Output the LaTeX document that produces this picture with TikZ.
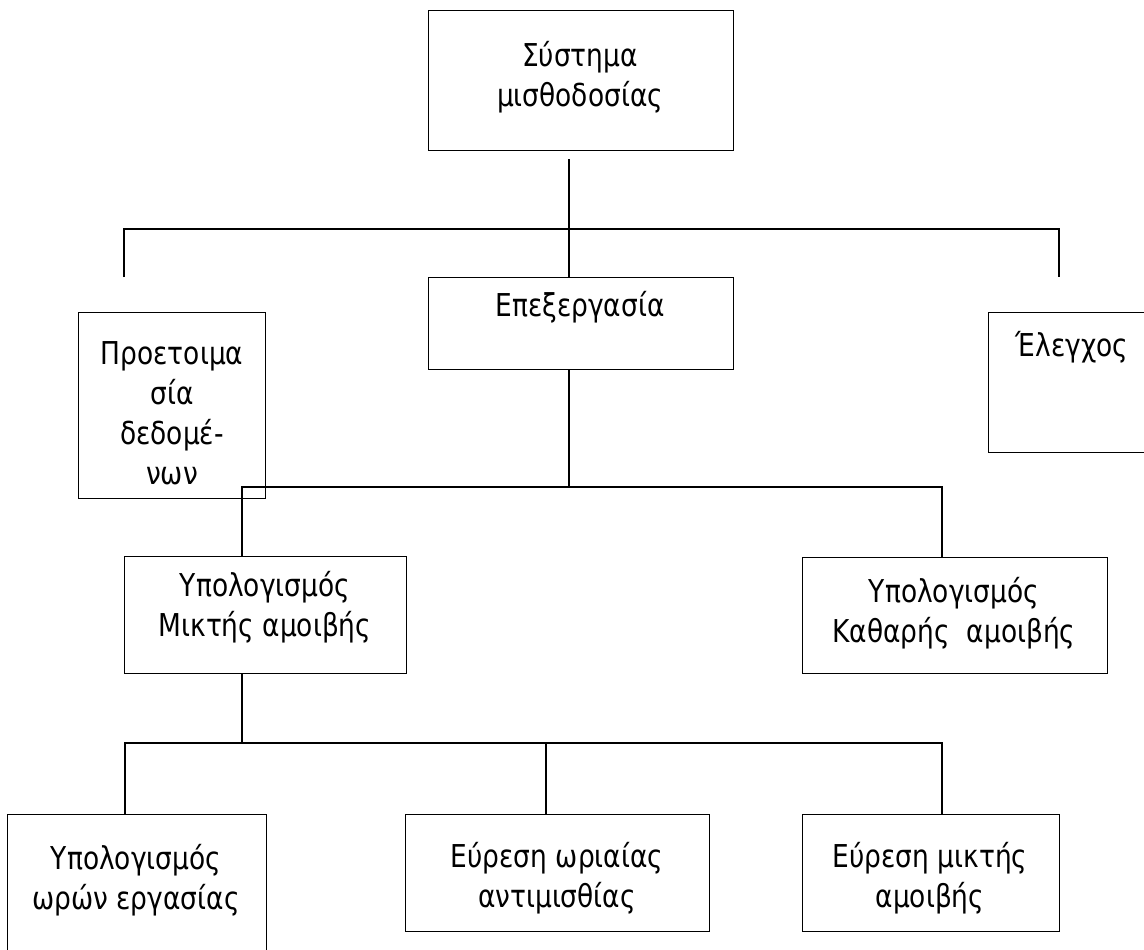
\documentclass[tikz,border=0pt]{standalone}
\usepackage{fontspec}
\setmainfont{DejaVu Sans}[FakeStretch=0.84]
\begin{document}
\begin{tikzpicture}[x=1pt,y=-1pt,
  boxst/.style={draw=black,line width=1.3pt,rectangle,anchor=north west,inner sep=0pt},
  txt/.style={align=center,inner sep=0pt,font=\fontsize{31.5}{40}\selectfont},
  conn/.style={draw=black,line width=1.3pt}]
\useasboundingbox (0,0) rectangle (1144,950);
\clip (0,0) rectangle (1144,950);

% boxes
\node[boxst,minimum width=305pt,minimum height=140pt] (top) at (428,10) {};
\node[boxst,minimum width=305pt,minimum height=92pt]  (epex) at (428,277) {};
\node[boxst,minimum width=187pt,minimum height=186pt] (prep) at (78,312) {};
\node[boxst,minimum width=168pt,minimum height=140pt] (elen) at (988,312) {};
\node[boxst,minimum width=282pt,minimum height=117pt] (mix) at (124,556) {};
\node[boxst,minimum width=305pt,minimum height=116pt] (net) at (802,557) {};
\node[boxst,minimum width=259pt,minimum height=160pt] (hrs) at (7,814) {};
\node[boxst,minimum width=304pt,minimum height=117pt] (rate) at (405,814) {};
\node[boxst,minimum width=257pt,minimum height=117pt] (gross) at (802,814) {};

% labels
\node[txt] (topt) at (580,77) {Σύστημα\\μισθοδοσίας};
\node[txt] (epext) at (580,307) {Επεξεργασία};
\node[txt] (prept) at (172,413) {Προετοιμα\\σία\\δεδομέ-\\νων};
\node[txt] (elent) at (1072,347) {Έλεγχος};
\node[txt] (mixt) at (265,607) {Υπολογισμός\\Μικτής αμοιβής};
\node[txt] (nett) at (954,613) {Υπολογισμός\\Καθαρής~ αμοιβής};
\node[txt] (hrst) at (136,880) {Υπολογισμός\\ωρών εργασίας};
\node[txt] (ratet) at (557,878) {Εύρεση ωριαίας\\αντιμισθίας};
\node[txt] (grosst) at (930,878) {Εύρεση μικτής\\αμοιβής};

% junction points
\coordinate (busA) at (569,229);
\coordinate (lend) at (124,277);
\coordinate (rend) at (1059,277);
\coordinate (busB) at (569,487);
\coordinate (dropL) at (242,487);
\coordinate (dropR) at (942,487);
\coordinate (busC) at (242,743);
\coordinate (c1) at (125,743);
\coordinate (c2) at (546,743);
\coordinate (c3) at (942,743);

% connectors
\draw[conn] ([yshift=-8pt]top.south -| busA) -- (epex.north -| busA);
\draw[conn] (lend) |- (busA) -| (rend);
\draw[conn] (epex.south -| busB) -- (busB);
\draw[conn] (mix.north -| dropL) -- (dropL) -- (dropR) -- (net.north -| dropR);
\draw[conn] (mix.south -| busC) -- (busC);
\draw[conn] (hrs.north -| c1) -- (c1) -- (c3) -- (gross.north -| c3);
\draw[conn] (c2) -- (rate.north -| c2);
\end{tikzpicture}
\end{document}
